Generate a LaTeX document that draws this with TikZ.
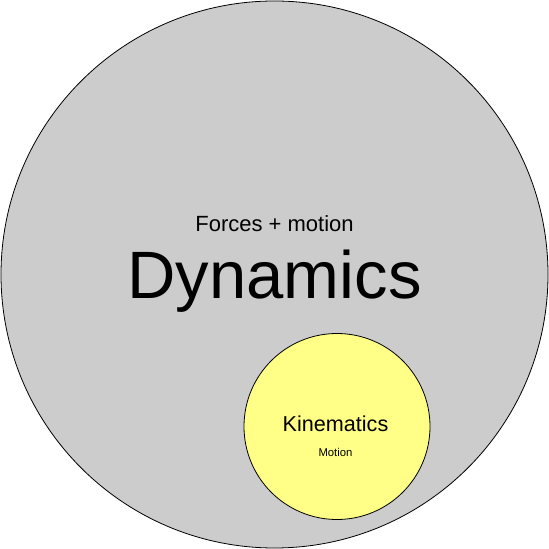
\documentclass[tikz,border=0pt]{standalone}
\usepackage{fontspec}
\setmainfont{Liberation Sans}
\definecolor{dyngray}{HTML}{CCCCCC}
\definecolor{kinyellow}{HTML}{FFFF88}

\begin{document}
\begin{tikzpicture}[x=1pt, y=1pt, line cap=round, line join=round]
\tikzset{set/.style={circle, draw=black, line width=0.8pt, inner sep=0pt},
  lbl/.style={anchor=base, inner sep=0pt}}

\useasboundingbox (0,0) rectangle (549,549);

% sets
\node[set, fill=dyngray, minimum size=547pt] (dyn) at (274.5,274.5) {};
\node[set, fill=kinyellow, minimum size=186pt] (kin) at (337,122.5) {};

% labels
\node[lbl, font=\fontsize{22}{26}\selectfont] (dynsub) at (274.5,317) {Forces + motion};
\node[lbl, font=\fontsize{67}{80}\selectfont] (dynname) at (274.5,250) {Dynamics};
\node[lbl, font=\fontsize{21.6}{26}\selectfont] (kinname) at (335.5,117) {Kinematics};
\node[lbl, font=\fontsize{11.3}{13}\selectfont] (kinsub) at (335.5,92) {Motion};
\end{tikzpicture}
\end{document}
